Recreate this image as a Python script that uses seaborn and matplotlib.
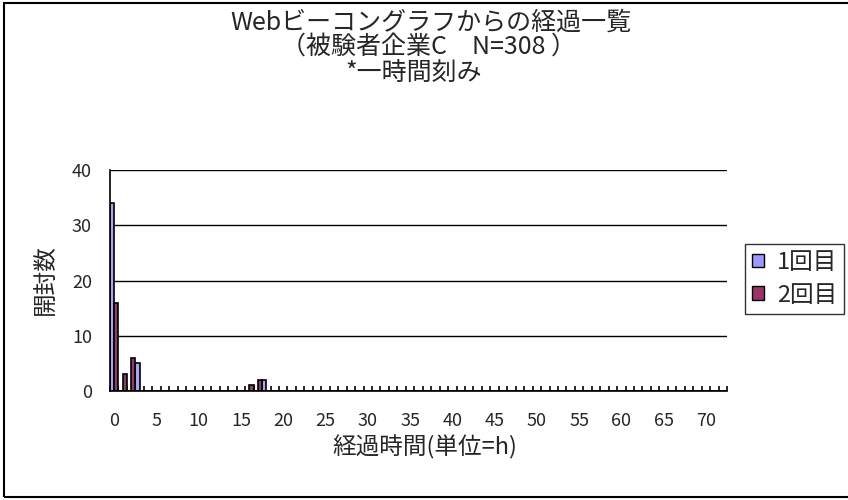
import matplotlib
matplotlib.use('Agg')
import matplotlib.pyplot as plt
from matplotlib.patches import Patch, Rectangle
import seaborn as sns
import pandas as pd

# 経過時間（時間単位のカテゴリ 0〜72）
hours = list(range(73))

# 1回目の開封数
first = [34, 0, 0, 5, 0, 0, 0, 0, 0, 0, 0, 0, 0, 0, 0, 0, 0, 0, 2, 0,
         0, 0, 0, 0, 0, 0, 0, 0, 0, 0, 0, 0, 0, 0, 0, 0, 0, 0, 0, 0,
         0, 0, 0, 0, 0, 0, 0, 0, 0, 0, 0, 0, 0, 0, 0, 0, 0, 0, 0, 0,
         0, 0, 0, 0, 0, 0, 0, 0, 0, 0, 0, 0, 0]

# 2回目の開封数
second = [16, 3, 6, 0, 0, 0, 0, 0, 0, 0, 0, 0, 0, 0, 0, 0, 1, 2, 0, 0,
          0, 0, 0, 0, 0, 0, 0, 0, 0, 0, 0, 0, 0, 0, 0, 0, 0, 0, 0, 0,
          0, 0, 0, 0, 0, 0, 0, 0, 0, 0, 0, 0, 0, 0, 0, 0, 0, 0, 0, 0,
          0, 0, 0, 0, 0, 0, 0, 0, 0, 0, 0, 0, 0]

series_names = ['1回目', '2回目']
colors = ['#9999ff', '#993366']
tick_hours = [0, 5, 10, 15, 20, 25, 30, 35, 40, 45, 50, 55, 60, 65, 70]
y_ticks = [0, 10, 20, 30, 40]

df = pd.DataFrame({
    'hour': hours + hours,
    'count': first + second,
    'series': [series_names[0]] * len(hours) + [series_names[1]] * len(hours),
})

sns.set_style('white')
plt.rcParams['font.family'] = ['Noto Sans CJK JP', 'DejaVu Sans']

fig = plt.figure(figsize=(8.48, 5.0), dpi=100)
ax = fig.add_axes([110 / 848, 1 - 391 / 500, 617 / 848, 221 / 500])

sns.barplot(data=df, x='hour', y='count', hue='series', order=hours,
            hue_order=series_names, palette=colors, width=1.0,
            edgecolor='black', linewidth=1.2, legend=False, ax=ax)

ax.set_xlim(-0.5, len(hours) - 0.5)
ax.set_ylim(0, 40)
ax.set_yticks(y_ticks)
ax.yaxis.grid(True, color='black', linewidth=1)
ax.set_axisbelow(True)

ax.set_xticks(tick_hours)
ax.set_xticklabels([str(h) for h in tick_hours])
ax.set_xticks([h - 0.5 for h in hours] + [len(hours) - 0.5], minor=True)
ax.tick_params(axis='x', which='major', length=0, labelsize=13, pad=15)
ax.tick_params(axis='x', which='minor', bottom=True, direction='in',
               length=3.5, width=1.2, color='black')
ax.tick_params(axis='y', length=0, labelsize=13, pad=13)

for side in ['top', 'right']:
    ax.spines[side].set_visible(False)
for side in ['left', 'bottom']:
    ax.spines[side].set_color('black')
    ax.spines[side].set_linewidth(1.2)
ax.set_xlabel('')
ax.set_ylabel('')

# タイトル（3行）
fig.text(431 / 848, 1 - 23 / 500, 'Webビーコングラフからの経過一覧', ha='center', va='center', fontsize=18)
fig.text(428 / 848, 1 - 47 / 500, '（被験者企業C　N=308 ）', ha='center', va='center', fontsize=18)
fig.text(414 / 848, 1 - 73 / 500, '*一時間刻み', ha='center', va='center', fontsize=18)

fig.text(425 / 848, 1 - 447 / 500, '経過時間(単位=h)', ha='center', va='center', fontsize=17)
fig.text(45 / 848, 1 - 280 / 500, '開封数', ha='center', va='center', rotation=90, fontsize=17)

handles = [Patch(facecolor=c, edgecolor='black', label=n) for c, n in zip(colors, series_names)]
leg = fig.legend(handles=handles, loc='upper left', bbox_to_anchor=(745 / 848, 1 - 244 / 500),
                 frameon=True, fancybox=False, edgecolor='black', fontsize=17,
                 handlelength=0.5, handleheight=0.5, handletextpad=0.55,
                 labelspacing=0.4, borderpad=0.3, borderaxespad=0)
leg.get_frame().set_linewidth(1)

fig.patches.append(Rectangle((4 / 848, 3 / 500), 1.0, 494 / 500, transform=fig.transFigure,
                             fill=False, edgecolor='black', linewidth=1.5))

fig.savefig('out.png', dpi=100)
